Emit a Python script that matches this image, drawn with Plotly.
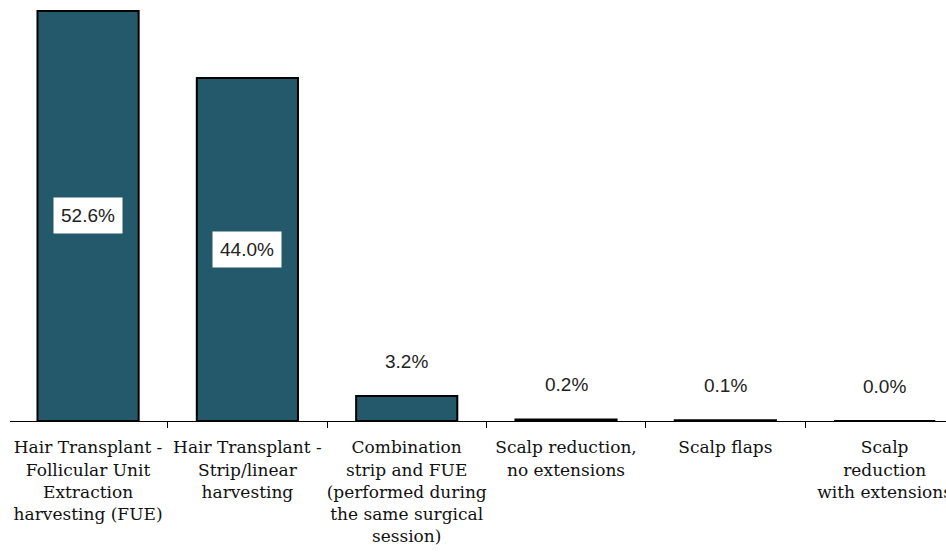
import plotly.graph_objects as go

categories = [
    "Hair Transplant -<br>Follicular Unit<br>Extraction<br>harvesting (FUE)",
    "Hair Transplant -<br>Strip/linear<br>harvesting",
    "Combination<br>strip and FUE<br>(performed during<br>the same surgical<br>session)",
    "Scalp reduction,<br>no extensions",
    "Scalp flaps",
    "Scalp<br>reduction<br>with extensions",
]
values = [52.6, 44.0, 3.2, 0.2, 0.1, 0.0]
labels = [f"{v:.1f}%" for v in values]

BAR = "#23596a"
SERIF = "DejaVu Serif, serif"
SANS = "Liberation Sans, sans-serif"

fig = go.Figure()
fig.add_trace(go.Bar(
    x=categories, y=values,
    marker=dict(color=BAR, line=dict(color="black", width=2)),
    width=0.635,
    hoverinfo="skip",
))

annotations = []
for c, v, t in zip(categories, values, labels):
    if v > 10:
        annotations.append(dict(
            x=c, y=v / 2, text=t, showarrow=False,
            bgcolor="white", borderpad=7,
            font=dict(family=SANS, size=19, color="#222"),
        ))
    else:
        annotations.append(dict(
            x=c, y=v, yanchor="bottom", yshift=22, text=t, showarrow=False,
            font=dict(family=SANS, size=19, color="#222"),
        ))

fig.update_layout(
    width=946, height=556,
    margin=dict(l=10, r=0, t=0, b=135),
    paper_bgcolor="white", plot_bgcolor="white",
    showlegend=False,
    annotations=annotations,
    xaxis=dict(
        type="category",
        range=[-0.49, 5.385],
        showline=True, linecolor="black", linewidth=1,
        tickson="boundaries", ticks="outside", ticklen=6, tickcolor="black", tickwidth=1,
        tickfont=dict(family=SERIF, size=17, color="#111"),
        ticklabelstandoff=11,
        tickangle=0,
        automargin=False,
        showgrid=False,
    ),
    yaxis=dict(
        range=[0, 54], visible=False, showgrid=False, zeroline=False,
    ),
)

fig.write_html("out.html")
